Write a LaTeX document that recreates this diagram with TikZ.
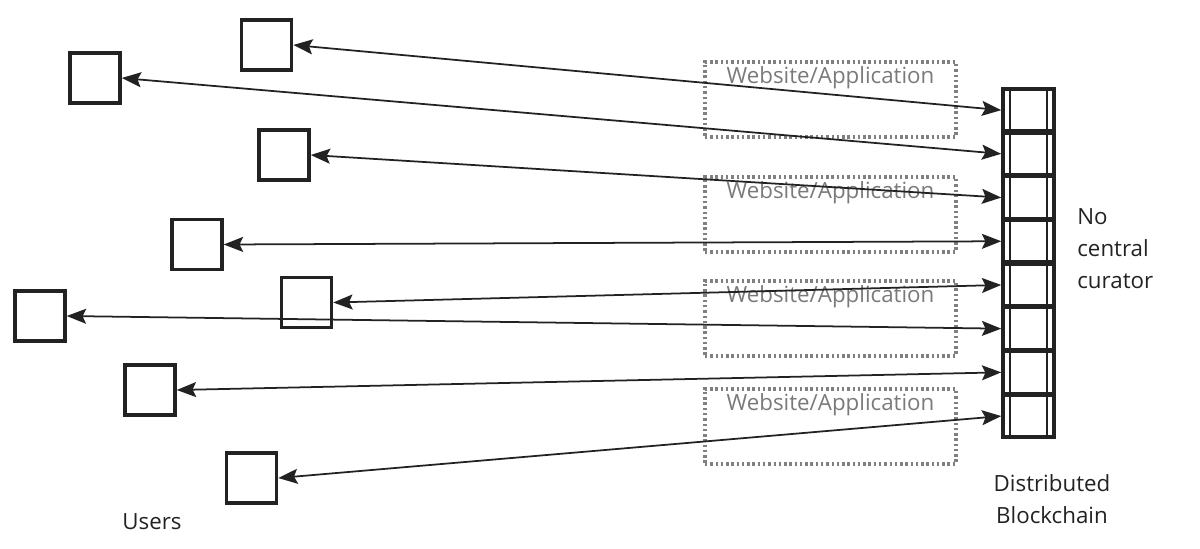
\documentclass[tikz,border=0pt]{standalone}
\usepackage{fontspec}
\setmainfont{Open Sans}
\usetikzlibrary{arrows.meta}
\definecolor{ink}{HTML}{222222}
\definecolor{wagray}{HTML}{7A7A7A}
\definecolor{dotgray}{HTML}{808080}
\begin{document}
\begin{tikzpicture}[x=0.02cm,y=-0.02cm,
 userbox/.style={draw=ink,line width=2pt,minimum size=1.0cm,inner sep=0pt},
 cellbox/.style={draw=ink,line width=2pt,minimum width=1.02cm,minimum height=0.84cm,inner sep=0pt},
 inner/.style={draw=ink,line width=1.3pt},
 link/.style={draw=ink,line width=1pt,{Stealth[length=11pt,width=8.5pt,inset=2pt]}-{Stealth[length=11pt,width=8.5pt,inset=2pt]}},
 wabox/.style={draw=dotgray,line width=1.8pt,dash pattern=on 1.4pt off 1.6pt,minimum width=5.02cm,minimum height=1.5cm,inner sep=0pt},
 watext/.style={text=wagray,font=\fontsize{12.7}{15}\selectfont,inner sep=0pt},
 lbl/.style={text=ink,font=\fontsize{12.7}{18.2}\selectfont,inner sep=0pt}]
\useasboundingbox (0,0) rectangle (1200,548);

% website/application boxes
\node[wabox] (w1) at (830.5,99.5) {};
\node[wabox] (w2) at (830.5,214.5) {};
\node[wabox] (w3) at (830.5,318.5) {};
\node[wabox] (w4) at (830.5,426.5) {};
\node[watext] (w1t) at (830.5,78) {Website/Application};
\node[watext] (w2t) at (830.5,193) {Website/Application};
\node[watext] (w3t) at (830.5,297) {Website/Application};
\node[watext] (w4t) at (830.5,405) {Website/Application};

% blockchain cells
\foreach \i in {1,...,8}{
  \node[cellbox] (c\i) at (1028.5,{88.3+43.7*(\i-0.5)}) {};
}
\draw[inner] ([xshift=0.17cm]c1.north west) -- ([xshift=0.17cm]c8.south west);
\draw[inner] ([xshift=-0.17cm]c1.north east) -- ([xshift=-0.17cm]c8.south east);

% users
\node[userbox] (u1) at (266.5,45) {};
\node[userbox] (u2) at (95,78) {};
\node[userbox] (u3) at (284,155) {};
\node[userbox] (u4) at (197,244.5) {};
\node[userbox] (u5) at (306.5,302.5) {};
\node[userbox] (u6) at (40,316) {};
\node[userbox] (u7) at (150,390) {};
\node[userbox] (u8) at (251.5,478) {};

% connectors
\foreach \i in {1,...,8}{
  \draw[link] (u\i.east) -- (c\i.west);
}

% labels
\node[lbl] (users) at (152,522) {Users};
\node[lbl,align=left,anchor=west] (curator) at (1077,249) {No\\central\\curator};
\node[lbl,align=center] (dist) at (1052,499.5) {Distributed\\Blockchain};
\end{tikzpicture}
\end{document}
